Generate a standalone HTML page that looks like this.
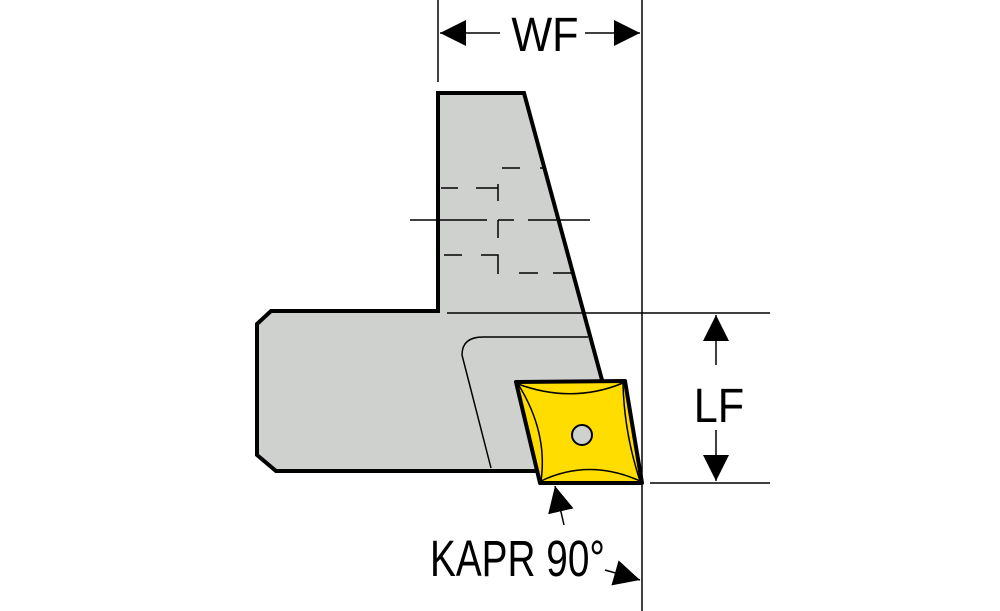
<!DOCTYPE html>
<html><head><style>body{margin:0;background:#fff}svg{display:block}</style></head><body>
<svg width="1000" height="611" viewBox="0 0 1000 611" xmlns="http://www.w3.org/2000/svg">
<defs><marker id="a" viewBox="0 0 10 10" refX="10" refY="5" markerWidth="26" markerHeight="26" markerUnits="userSpaceOnUse" orient="auto"><path d="M0,0 L10,5 L0,10 z" fill="#000"/></marker></defs>
<!-- body -->
<path d="M438,93 L524,93 L602,380 L516,382 L536,471 L276,471 L257,455 L257,324 L271,311 L438,311 Z" fill="#cfd1cf" stroke="none"/>
<path d="M540,471 L276,471 L257,455 L257,324 L271,311 L438,311 L438,93 L524,93 L602,380" fill="none" stroke="#000" stroke-width="4"/>
<line x1="447" y1="313" x2="770" y2="313" stroke="#000" stroke-width="1.5"/>
<path d="M588,337 L483,337 Q462,337 462,355 L491,468" fill="none" stroke="#000" stroke-width="1.5"/>
<!-- dashed -->
<g stroke="#000" stroke-width="1.5" fill="none">
<line x1="410" y1="220" x2="487" y2="220"/><line x1="498" y1="220" x2="514" y2="220"/><line x1="528" y1="220" x2="590" y2="220"/>
<line x1="441" y1="188" x2="458" y2="188"/><line x1="476" y1="188" x2="498" y2="188"/>
<line x1="498" y1="184" x2="498" y2="201"/><line x1="498" y1="220" x2="498" y2="238"/>
<line x1="502" y1="168" x2="520" y2="168"/><line x1="540" y1="168" x2="545" y2="168"/>
<line x1="444" y1="255" x2="462" y2="255"/><path d="M481,255 L498,255 L498,274"/>
<line x1="519" y1="273" x2="538" y2="273"/><line x1="553" y1="273" x2="572" y2="273"/>
</g>
<!-- dims -->
<g stroke="#000" stroke-width="1.5">
<line x1="438" y1="0" x2="438" y2="82"/>
<line x1="642" y1="0" x2="642" y2="611"/>
<line x1="650" y1="483" x2="770" y2="483"/>
<line x1="500" y1="33" x2="440" y2="33" marker-end="url(#a)"/>
<line x1="585" y1="33" x2="640" y2="33" marker-end="url(#a)"/>
<line x1="716" y1="365" x2="716" y2="315" marker-end="url(#a)"/>
<line x1="716" y1="430" x2="716" y2="481" marker-end="url(#a)"/>
<line x1="564" y1="525" x2="555" y2="486" marker-end="url(#a)"/>
<line x1="605" y1="570" x2="640" y2="580" marker-end="url(#a)"/>
</g>
<!-- insert -->
<path d="M516,382 L625,381 L642,483 L540,483 Z" fill="#ffdd00" stroke="#000" stroke-width="4" stroke-linejoin="round"/>
<g fill="none" stroke="#000" stroke-width="1.5">
<path d="M518,384 Q572,404 623,383"/>
<path d="M623,383 Q624,432 640,481"/>
<path d="M640,481 Q589,458 541,481"/>
<path d="M541,481 Q548,432 518,384"/>
</g>
<circle cx="582" cy="435" r="10" fill="#cfd1cf" stroke="#000" stroke-width="2"/>
<g font-family="Liberation Sans Narrow, Liberation Sans, sans-serif" font-size="48" fill="#000">
<text x="545" y="51" text-anchor="middle" transform="translate(545 0) scale(0.9 1) translate(-545 0)">WF</text>
<text x="719" y="422" text-anchor="middle" transform="translate(719 0) scale(0.9 1) translate(-719 0)">LF</text>
<text x="430" y="576" font-size="51" transform="translate(430 0) scale(0.76 1) translate(-430 0)">KAPR 90°</text>
</g>
</svg>
</body></html>
